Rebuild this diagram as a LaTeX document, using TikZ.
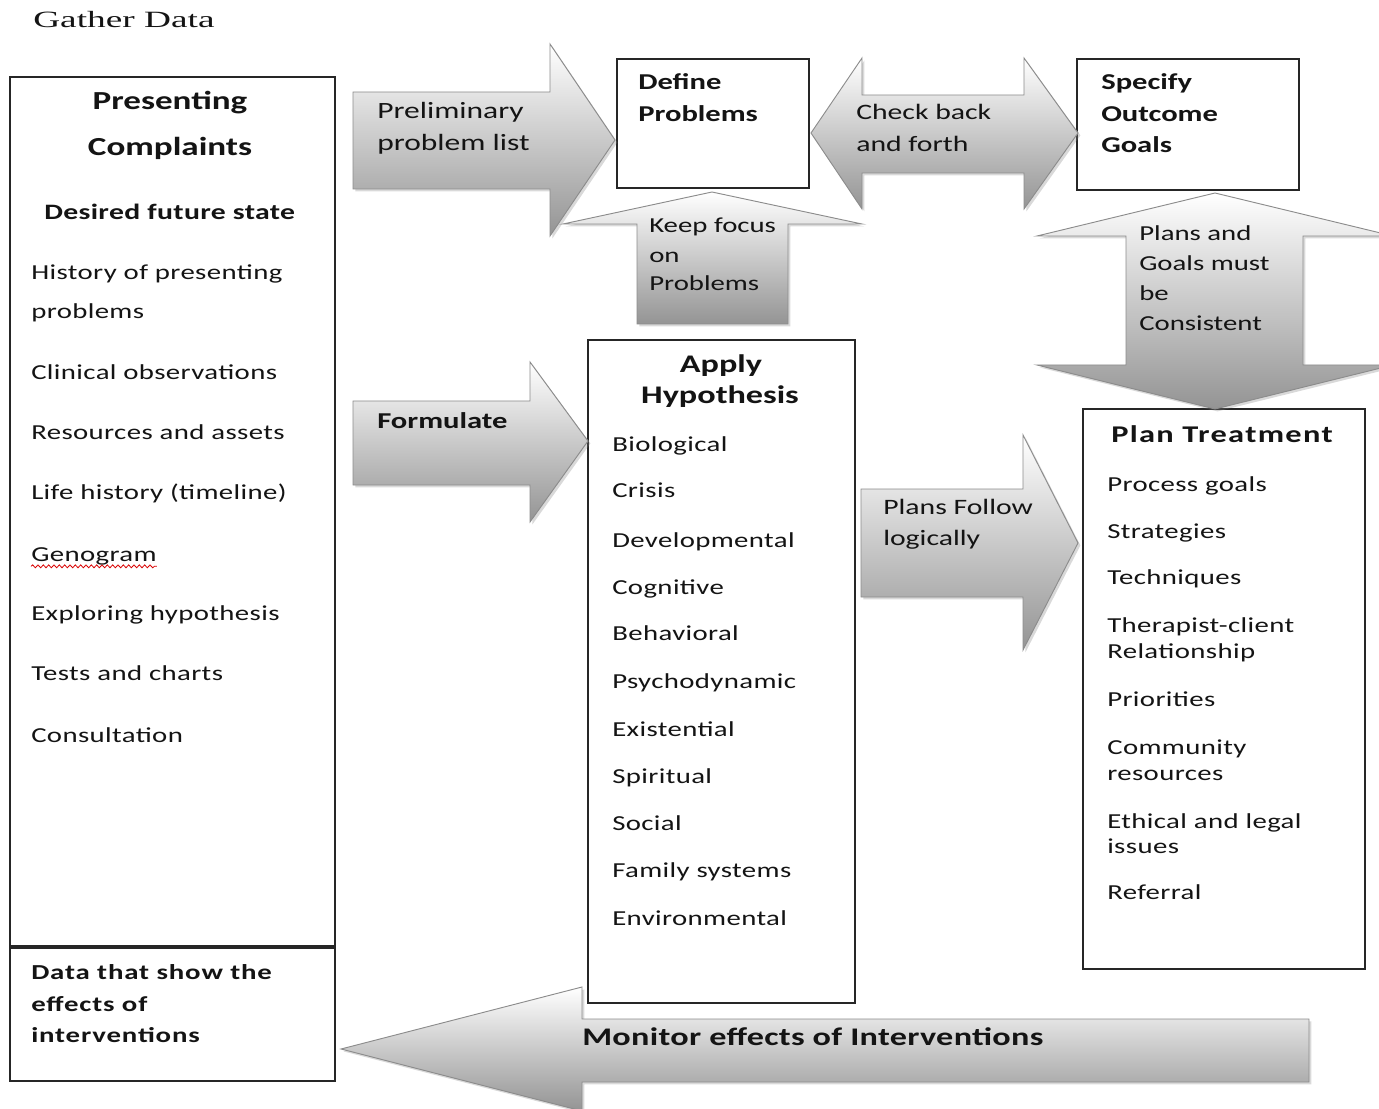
\documentclass[tikz,border=0pt]{standalone}
\usepackage{fontspec}
\setmainfont{Carlito}[FakeStretch=1.35]
\newfontfamily\gatherfont{Liberation Serif}[FakeStretch=1.6]
\usetikzlibrary{shadows,fit,decorations.pathmorphing}

\begin{document}
\begin{tikzpicture}[x=0.75pt,y=-0.75pt,
  txt/.style={anchor=base west, inner sep=0pt, text=black!92},
  ctxt/.style={anchor=base, inner sep=0pt, text=black!92},
  item/.style={txt, font=\fontsize{16}{19}\selectfont\addfontfeature{LetterSpace=1.8}},
  box/.style={draw=black!85, line width=1.3pt, inner sep=0pt, fill=white},
  blockarrow/.style={draw=black!45, line width=0.7pt, top color=white,
    bottom color=black!42,
    drop shadow={shadow xshift=1.8pt, shadow yshift=-1.8pt, opacity=0.3}},
]
\useasboundingbox (0,0) rectangle (1379,1109);

% ---------- title ----------
\node[txt, font=\gatherfont\fontsize{17.5}{20}\selectfont] (gather) at (33,28) {Gather Data};

% ---------- boxes ----------
\node[box, fit={(10,77) (335,946)}] (gatherbox) {};
\node[box, fit={(10,948) (335,1081)}] (effectsbox) {};
\node[box, fit={(617,59) (809,188)}] (definebox) {};
\node[box, fit={(1077,59) (1299,190)}] (specifybox) {};
\node[box, fit={(588,340) (855,1003)}] (hypbox) {};
\node[box, fit={(1083,409) (1365,969)}] (planbox) {};

% ---------- block arrows ----------
% keep focus (up)
\path[blockarrow] (712,192) -- (862,224) -- (788,224) -- (788,324) -- (637,324)
  -- (637,224) -- (563,224) -- cycle;
% preliminary problem list (right)
\path[blockarrow] (353,92) -- (550,92) -- (550,44) -- (615,140) -- (550,236)
  -- (550,189) -- (353,189) -- cycle;
% check back and forth (double)
\path[blockarrow] (811,133) -- (862,58) -- (862,95) -- (1024,95) -- (1024,58)
  -- (1078,133) -- (1024,209) -- (1024,173) -- (862,173) -- (862,209) -- cycle;
% plans and goals consistent (vertical double)
\path[blockarrow] (1215,193) -- (1393,236) -- (1303,236) -- (1303,365)
  -- (1393,365) -- (1215,409) -- (1037,365) -- (1126,365) -- (1126,236)
  -- (1037,236) -- cycle;
% formulate (right)
\path[blockarrow] (353,401) -- (530,401) -- (530,362) -- (588,441) -- (530,522)
  -- (530,485) -- (353,485) -- cycle;
% plans follow logically (right)
\path[blockarrow] (861,489) -- (1023,489) -- (1023,435) -- (1078,543)
  -- (1023,650) -- (1023,597) -- (861,597) -- cycle;
% monitor effects (left)
\path[blockarrow] (341,1049) -- (582,987) -- (582,1019) -- (1309,1019)
  -- (1309,1082) -- (582,1082) -- (582,1111) -- cycle;

% ---------- left column ----------
\begin{scope}[font=\bfseries\fontsize{19.5}{23}\selectfont]
\node[ctxt] (pc1) at (170,110) {Presenting};
\node[ctxt] (pc2) at (170,156) {Complaints};
\end{scope}
\node[txt, font=\bfseries\fontsize{16.5}{19}\selectfont\addfontfeature{LetterSpace=1.6}] (desired) at (44,220) {Desired future state};
\node[item] (g1) at (31,280) {History of presenting};
\node[item] (g1b) at (31,319) {problems};
\node[item] (g2) at (31,380) {Clinical observations};
\node[item] (g3) at (31,440) {Resources and assets};
\node[item] (g4) at (31,499) {Life history (timeline)};
\node[item] (g5) at (31,561) {Genogram};
\draw[red!85!black, line width=0.6pt, decorate,
  decoration={snake, amplitude=1.1pt, segment length=4pt}]
  ([yshift=-4pt]g5.base west) -- ([yshift=-4pt]g5.base east);
\node[item] (g6) at (31,620) {Exploring hypothesis};
\node[item] (g7) at (31,680) {Tests and charts};
\node[item] (g8) at (31,742) {Consultation};

\begin{scope}[font=\bfseries\fontsize{16}{19}\selectfont\addfontfeature{LetterSpace=4}]
\node[txt] (e1) at (31,979) {Data that show the};
\node[txt] (e2) at (31,1011) {effects of};
\node[txt] (e3) at (31,1042) {interventions};
\end{scope}

% ---------- define / specify ----------
\begin{scope}[font=\bfseries\fontsize{17}{20}\selectfont]
\node[txt] (d1) at (638,90) {Define};
\node[txt] (d2) at (638,122) {Problems};
\node[txt] (s1) at (1101,90) {Specify};
\node[txt] (s2) at (1101,122) {Outcome};
\node[txt] (s3) at (1101,153) {Goals};
\end{scope}

% ---------- arrow labels ----------
\begin{scope}[font=\fontsize{17.5}{20}\selectfont]
\node[txt] (pl1) at (377,119) {Preliminary};
\node[txt] (pl2) at (377,151) {problem list};
\end{scope}
\begin{scope}[font=\fontsize{16.5}{19}\selectfont]
\node[txt] (cb1) at (856,120) {Check back};
\node[txt] (cb2) at (856,152) {and forth};
\node[txt] (pf1) at (883,514) {Plans Follow};
\node[txt] (pf2) at (883,545) {logically};
\end{scope}
\begin{scope}[font=\fontsize{16}{19}\selectfont]
\node[txt] (kf1) at (649,233) {Keep focus};
\node[txt] (kf2) at (649,263) {on};
\node[txt] (kf3) at (649,291) {Problems};
\node[txt] (pg1) at (1139,241) {Plans and};
\node[txt] (pg2) at (1139,271) {Goals must};
\node[txt] (pg3) at (1139,301) {be};
\node[txt] (pg4) at (1139,331) {Consistent};
\end{scope}
\node[txt, font=\bfseries\fontsize{17}{20}\selectfont] (form) at (377,428) {Formulate};
\node[txt, font=\bfseries\fontsize{19}{22}\selectfont\addfontfeature{LetterSpace=1.2}] (mon) at (582,1045) {Monitor effects of Interventions};

% ---------- hypothesis column ----------
\begin{scope}[font=\bfseries\fontsize{19}{22}\selectfont]
\node[ctxt] (h1) at (721,373) {Apply};
\node[ctxt] (h2) at (720,404) {Hypothesis};
\end{scope}
\node[item] (m1) at (612,451) {Biological};
\node[item] (m2) at (612,498) {Crisis};
\node[item] (m3) at (612,547) {Developmental};
\node[item] (m4) at (612,594) {Cognitive};
\node[item] (m5) at (612,640) {Behavioral};
\node[item] (m6) at (612,688) {Psychodynamic};
\node[item] (m7) at (612,736) {Existential};
\node[item] (m8) at (612,783) {Spiritual};
\node[item] (m9) at (612,830) {Social};
\node[item] (m10) at (612,877) {Family systems};
\node[item] (m11) at (612,925) {Environmental};

% ---------- treatment column ----------
\node[txt, font=\bfseries\fontsize{18}{21}\selectfont\addfontfeature{LetterSpace=5.5}] (pt) at (1111,442) {Plan Treatment};
\node[item] (r1) at (1107,491) {Process goals};
\node[item] (r2) at (1107,538) {Strategies};
\node[item] (r3) at (1107,584) {Techniques};
\node[item] (r4) at (1107,632) {Therapist-client};
\node[item] (r4b) at (1107,658) {Relationship};
\node[item] (r5) at (1107,706) {Priorities};
\node[item] (r6) at (1107,754) {Community};
\node[item] (r6b) at (1107,780) {resources};
\node[item] (r7) at (1107,828) {Ethical and legal};
\node[item] (r7b) at (1107,853) {issues};
\node[item] (r8) at (1107,899) {Referral};
\end{tikzpicture}
\end{document}
